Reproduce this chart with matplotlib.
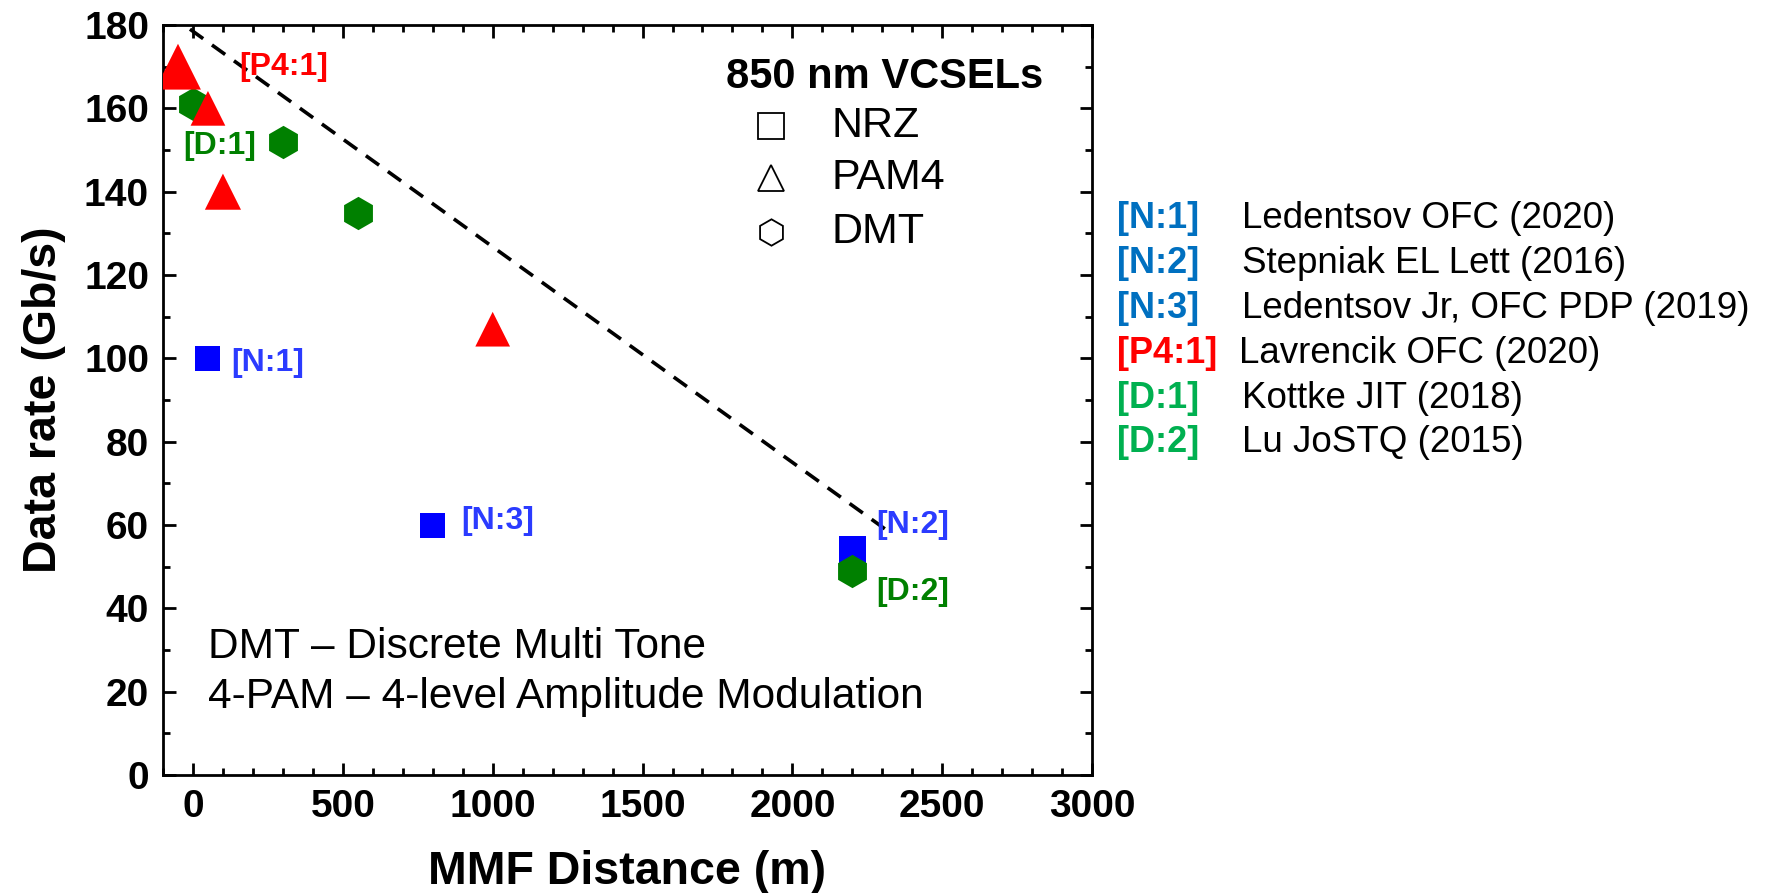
import matplotlib
matplotlib.use("Agg")
import matplotlib.pyplot as plt
from matplotlib.ticker import MultipleLocator

plt.rcParams['font.family'] = ['Liberation Sans', 'DejaVu Sans']

# --- data ---
nrz_x = [50, 800, 2200]
nrz_y = [100, 60, 54]
pam4_x = [-50, 50, 100, 1000]
pam4_y = [170, 160, 140, 107]
pam4_size = [33, 25, 26, 25]
dmt_x = [0, 300, 550, 2200]
dmt_y = [161, 152, 135, 49]
trend_x = [-10, 2310]
trend_y = [179, 59]

point_tags = ['[P4:1]', '[D:1]', '[N:1]', '[N:3]', '[N:2]', '[D:2]']
tag_x = [304, 90, 248, 1017, 2402, 2402]
tag_y = [170, 151, 99, 61, 60, 44]
tag_colors = ['#FF0000', '#008000', '#2B3BFF', '#2B3BFF', '#2B3BFF', '#008000']

ref_tags = ['[N:1]', '[N:2]', '[N:3]', '[P4:1]', '[D:1]', '[D:2]']
ref_names = ['Ledentsov OFC (2020)', 'Stepniak EL Lett (2016)',
             'Ledentsov Jr, OFC PDP (2019)', 'Lavrencik OFC (2020)',
             'Kottke JIT (2018)', 'Lu JoSTQ (2015)']
ref_colors = ['#0070C0', '#0070C0', '#0070C0', '#FF0000', '#00B050', '#00B050']

fig = plt.figure(figsize=(17.66, 8.93), dpi=100)
ax = fig.add_axes([0.0923, 0.1321, 0.5261, 0.8399])

# --- markers ---
ax.plot(trend_x, trend_y, '--', color='black', lw=2.6, dashes=(4.5, 3), zorder=2)
ax.scatter(nrz_x, nrz_y, marker='s', s=[18**2, 18**2, 19.5**2],
           color='#0000FF', linewidths=0, zorder=3)
ax.scatter(dmt_x, dmt_y, marker='h', s=24**2, color='#008000',
           linewidths=0, zorder=4)
ax.scatter(pam4_x, pam4_y, marker='^', s=[v**2 for v in pam4_size],
           color='#FF0000', linewidths=0, zorder=5)

for t, x, y, c in zip(point_tags, tag_x, tag_y, tag_colors):
    ax.text(x, y, t, color=c, fontsize=23, fontweight='bold',
            ha='center', va='center', zorder=6)

# --- axes styling ---
ax.set_xlim(-100, 3000)
ax.set_ylim(0, 180)
ax.xaxis.set_major_locator(MultipleLocator(500))
ax.xaxis.set_minor_locator(MultipleLocator(100))
ax.yaxis.set_major_locator(MultipleLocator(20))
ax.yaxis.set_minor_locator(MultipleLocator(10))
ax.tick_params(which='both', direction='in', top=True, right=True, width=2)
ax.tick_params(which='major', length=9, pad=10, labelsize=28)
ax.tick_params(which='minor', length=5)
for lab in ax.get_xticklabels() + ax.get_yticklabels():
    lab.set_fontweight('bold')
for sp in ax.spines.values():
    sp.set_linewidth(2)

ax.set_xlabel('MMF Distance (m)', fontsize=33.5, fontweight='bold', labelpad=18)
ax.set_ylabel('Data rate (Gb/s)', fontsize=33.5, fontweight='bold', labelpad=13)

# --- inner key ---
ax.text(0.777, 0.931, '850 nm VCSELs', transform=ax.transAxes, fontsize=30,
        fontweight='bold', ha='center', va='center')
key_markers = ['s', '^', 'h']
key_labels = ['NRZ', 'PAM4', 'DMT']
key_y = [0.865, 0.796, 0.724]
for m, lab, y in zip(key_markers, key_labels, key_y):
    ax.plot([0.6545], [y], marker=m, ms=19, mfc='none', mec='black', mew=1.3,
            transform=ax.transAxes, ls='none')
    ax.text(0.719, y, lab, transform=ax.transAxes, fontsize=31,
            ha='left', va='center')

ax.text(0.0485, 0.171, 'DMT \u2013 Discrete Multi Tone', transform=ax.transAxes,
        fontsize=30.5, ha='left', va='center')
ax.text(0.0485, 0.104, '4-PAM \u2013 4-level Amplitude Modulation',
        transform=ax.transAxes, fontsize=30.5, ha='left', va='center')

# --- reference list ---
for i, (t, n, c) in enumerate(zip(ref_tags, ref_names, ref_colors)):
    y = 0.755 - i * 0.0502
    fig.text(0.6327, y, t, color=c, fontsize=26, fontweight='bold',
             ha='left', va='center')
    fig.text(0.7034 if t != '[P4:1]' else 0.7015, y, n, color='black',
             fontsize=26.5, ha='left', va='center')

fig.savefig('out.png', dpi=100)
